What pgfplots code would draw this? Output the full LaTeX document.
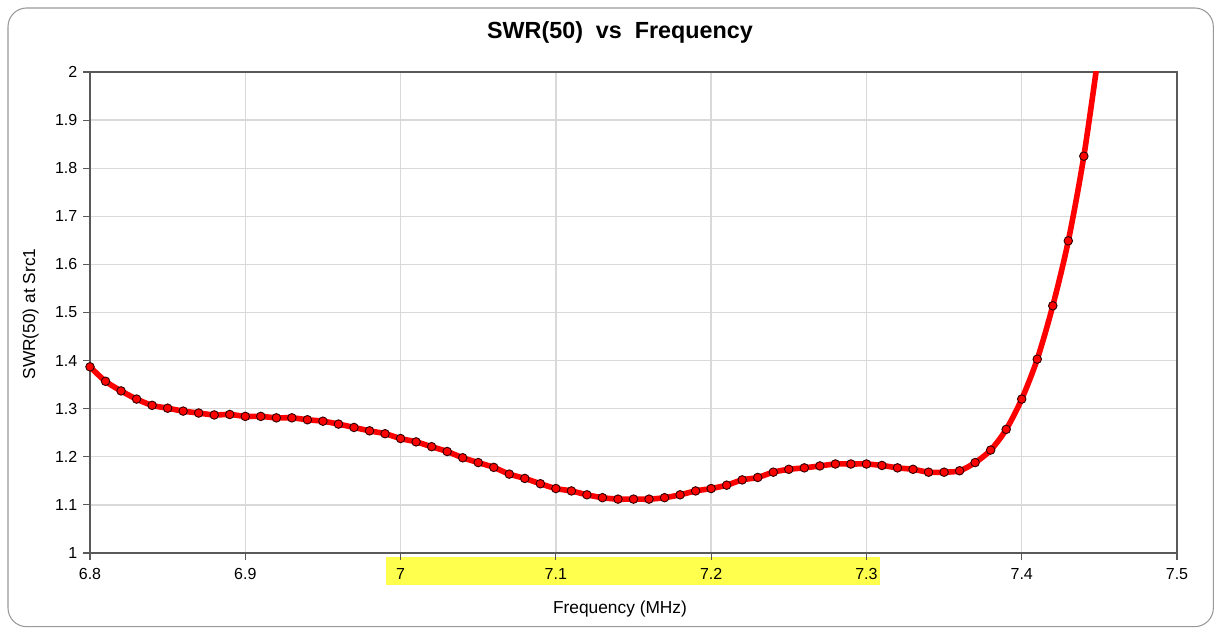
\documentclass[border=0pt]{standalone}
\usepackage{pgfplots}
\pgfplotsset{compat=1.18}
\usepackage{fontspec}
\setmainfont{Liberation Sans}
\definecolor{gridc}{HTML}{D9D9D9}
\definecolor{axc}{HTML}{595959}
\definecolor{hl}{HTML}{FFFF4D}
\begin{document}
\begin{tikzpicture}
\useasboundingbox (0,0) rectangle (915pt,472.5pt);
\draw[color=gray!80, line width=0.8pt, rounded corners=14pt] (6pt,2.5pt) rectangle (910pt,466.5pt);
\fill[hl] (289.5pt,33.75pt) rectangle (660pt,54.75pt);
\node[font=\fontsize{17.5}{20}\selectfont\bfseries] at (465pt,448.5pt) {SWR(50)\ \ vs\ \ Frequency};
\node[font=\fontsize{13}{15}\selectfont, rotate=90] at (23pt,237pt) {SWR(50) at Src1};
\node[font=\fontsize{13}{15}\selectfont] at (465pt,16pt) {Frequency (MHz)};
\begin{axis}[
  at={(67.5pt,57.75pt)}, anchor=south west,
  width=815.25pt, height=360.75pt, scale only axis,
  xmin=6.8, xmax=7.5, ymin=1, ymax=2,
  xtick={6.8,6.9,7,7.1,7.2,7.3,7.4,7.5},
  ytick={1,1.1,1.2,1.3,1.4,1.5,1.6,1.7,1.8,1.9,2},
  xticklabels={6.8,6.9,7,7.1,7.2,7.3,7.4,7.5},
  yticklabels={1,1.1,1.2,1.3,1.4,1.5,1.6,1.7,1.8,1.9,2},
  tick label style={font=\fontsize{12}{14}\selectfont},
  xtick pos=bottom, ytick pos=left,
  tick align=outside, major tick length=5pt,
  tick style={axc, line width=0.8pt},
  grid=major, major grid style={gridc, line width=1pt},
  axis line style={axc, line width=1.2pt},
  xticklabel style={yshift=-3pt},
  yticklabel style={xshift=-1pt},
  clip=true,
]
\addplot[red, line width=4.2pt, smooth, tension=0.5] coordinates {
(6.80,1.387)(6.81,1.357)(6.82,1.337)(6.83,1.320)(6.84,1.307)(6.85,1.301)
(6.86,1.295)(6.87,1.291)(6.88,1.287)(6.89,1.288)(6.90,1.284)(6.91,1.284)
(6.92,1.281)(6.93,1.281)(6.94,1.277)(6.95,1.274)(6.96,1.268)(6.97,1.261)
(6.98,1.254)(6.99,1.248)(7.00,1.238)(7.01,1.231)(7.02,1.221)(7.03,1.211)
(7.04,1.198)(7.05,1.188)(7.06,1.178)(7.07,1.164)(7.08,1.155)(7.09,1.144)
(7.10,1.134)(7.11,1.129)(7.12,1.121)(7.13,1.115)(7.14,1.112)(7.15,1.112)
(7.16,1.112)(7.17,1.115)(7.18,1.121)(7.19,1.129)(7.20,1.134)(7.21,1.141)
(7.22,1.152)(7.23,1.157)(7.24,1.168)(7.25,1.174)(7.26,1.177)(7.27,1.181)
(7.28,1.185)(7.29,1.185)(7.30,1.185)(7.31,1.182)(7.32,1.177)(7.33,1.174)
(7.34,1.168)(7.35,1.168)(7.36,1.171)(7.37,1.188)(7.38,1.214)(7.39,1.257)
(7.40,1.320)(7.41,1.403)(7.42,1.514)(7.43,1.649)(7.44,1.825)(7.45,2.05)
};
\addplot[only marks, mark=*, mark size=3.2pt, mark options={fill=red, draw=black!80!red, line width=0.7pt}] coordinates {
(6.80,1.387)(6.81,1.357)(6.82,1.337)(6.83,1.320)(6.84,1.307)(6.85,1.301)
(6.86,1.295)(6.87,1.291)(6.88,1.287)(6.89,1.288)(6.90,1.284)(6.91,1.284)
(6.92,1.281)(6.93,1.281)(6.94,1.277)(6.95,1.274)(6.96,1.268)(6.97,1.261)
(6.98,1.254)(6.99,1.248)(7.00,1.238)(7.01,1.231)(7.02,1.221)(7.03,1.211)
(7.04,1.198)(7.05,1.188)(7.06,1.178)(7.07,1.164)(7.08,1.155)(7.09,1.144)
(7.10,1.134)(7.11,1.129)(7.12,1.121)(7.13,1.115)(7.14,1.112)(7.15,1.112)
(7.16,1.112)(7.17,1.115)(7.18,1.121)(7.19,1.129)(7.20,1.134)(7.21,1.141)
(7.22,1.152)(7.23,1.157)(7.24,1.168)(7.25,1.174)(7.26,1.177)(7.27,1.181)
(7.28,1.185)(7.29,1.185)(7.30,1.185)(7.31,1.182)(7.32,1.177)(7.33,1.174)
(7.34,1.168)(7.35,1.168)(7.36,1.171)(7.37,1.188)(7.38,1.214)(7.39,1.257)
(7.40,1.320)(7.41,1.403)(7.42,1.514)(7.43,1.649)(7.44,1.825)
};
\end{axis}
\end{tikzpicture}
\end{document}
